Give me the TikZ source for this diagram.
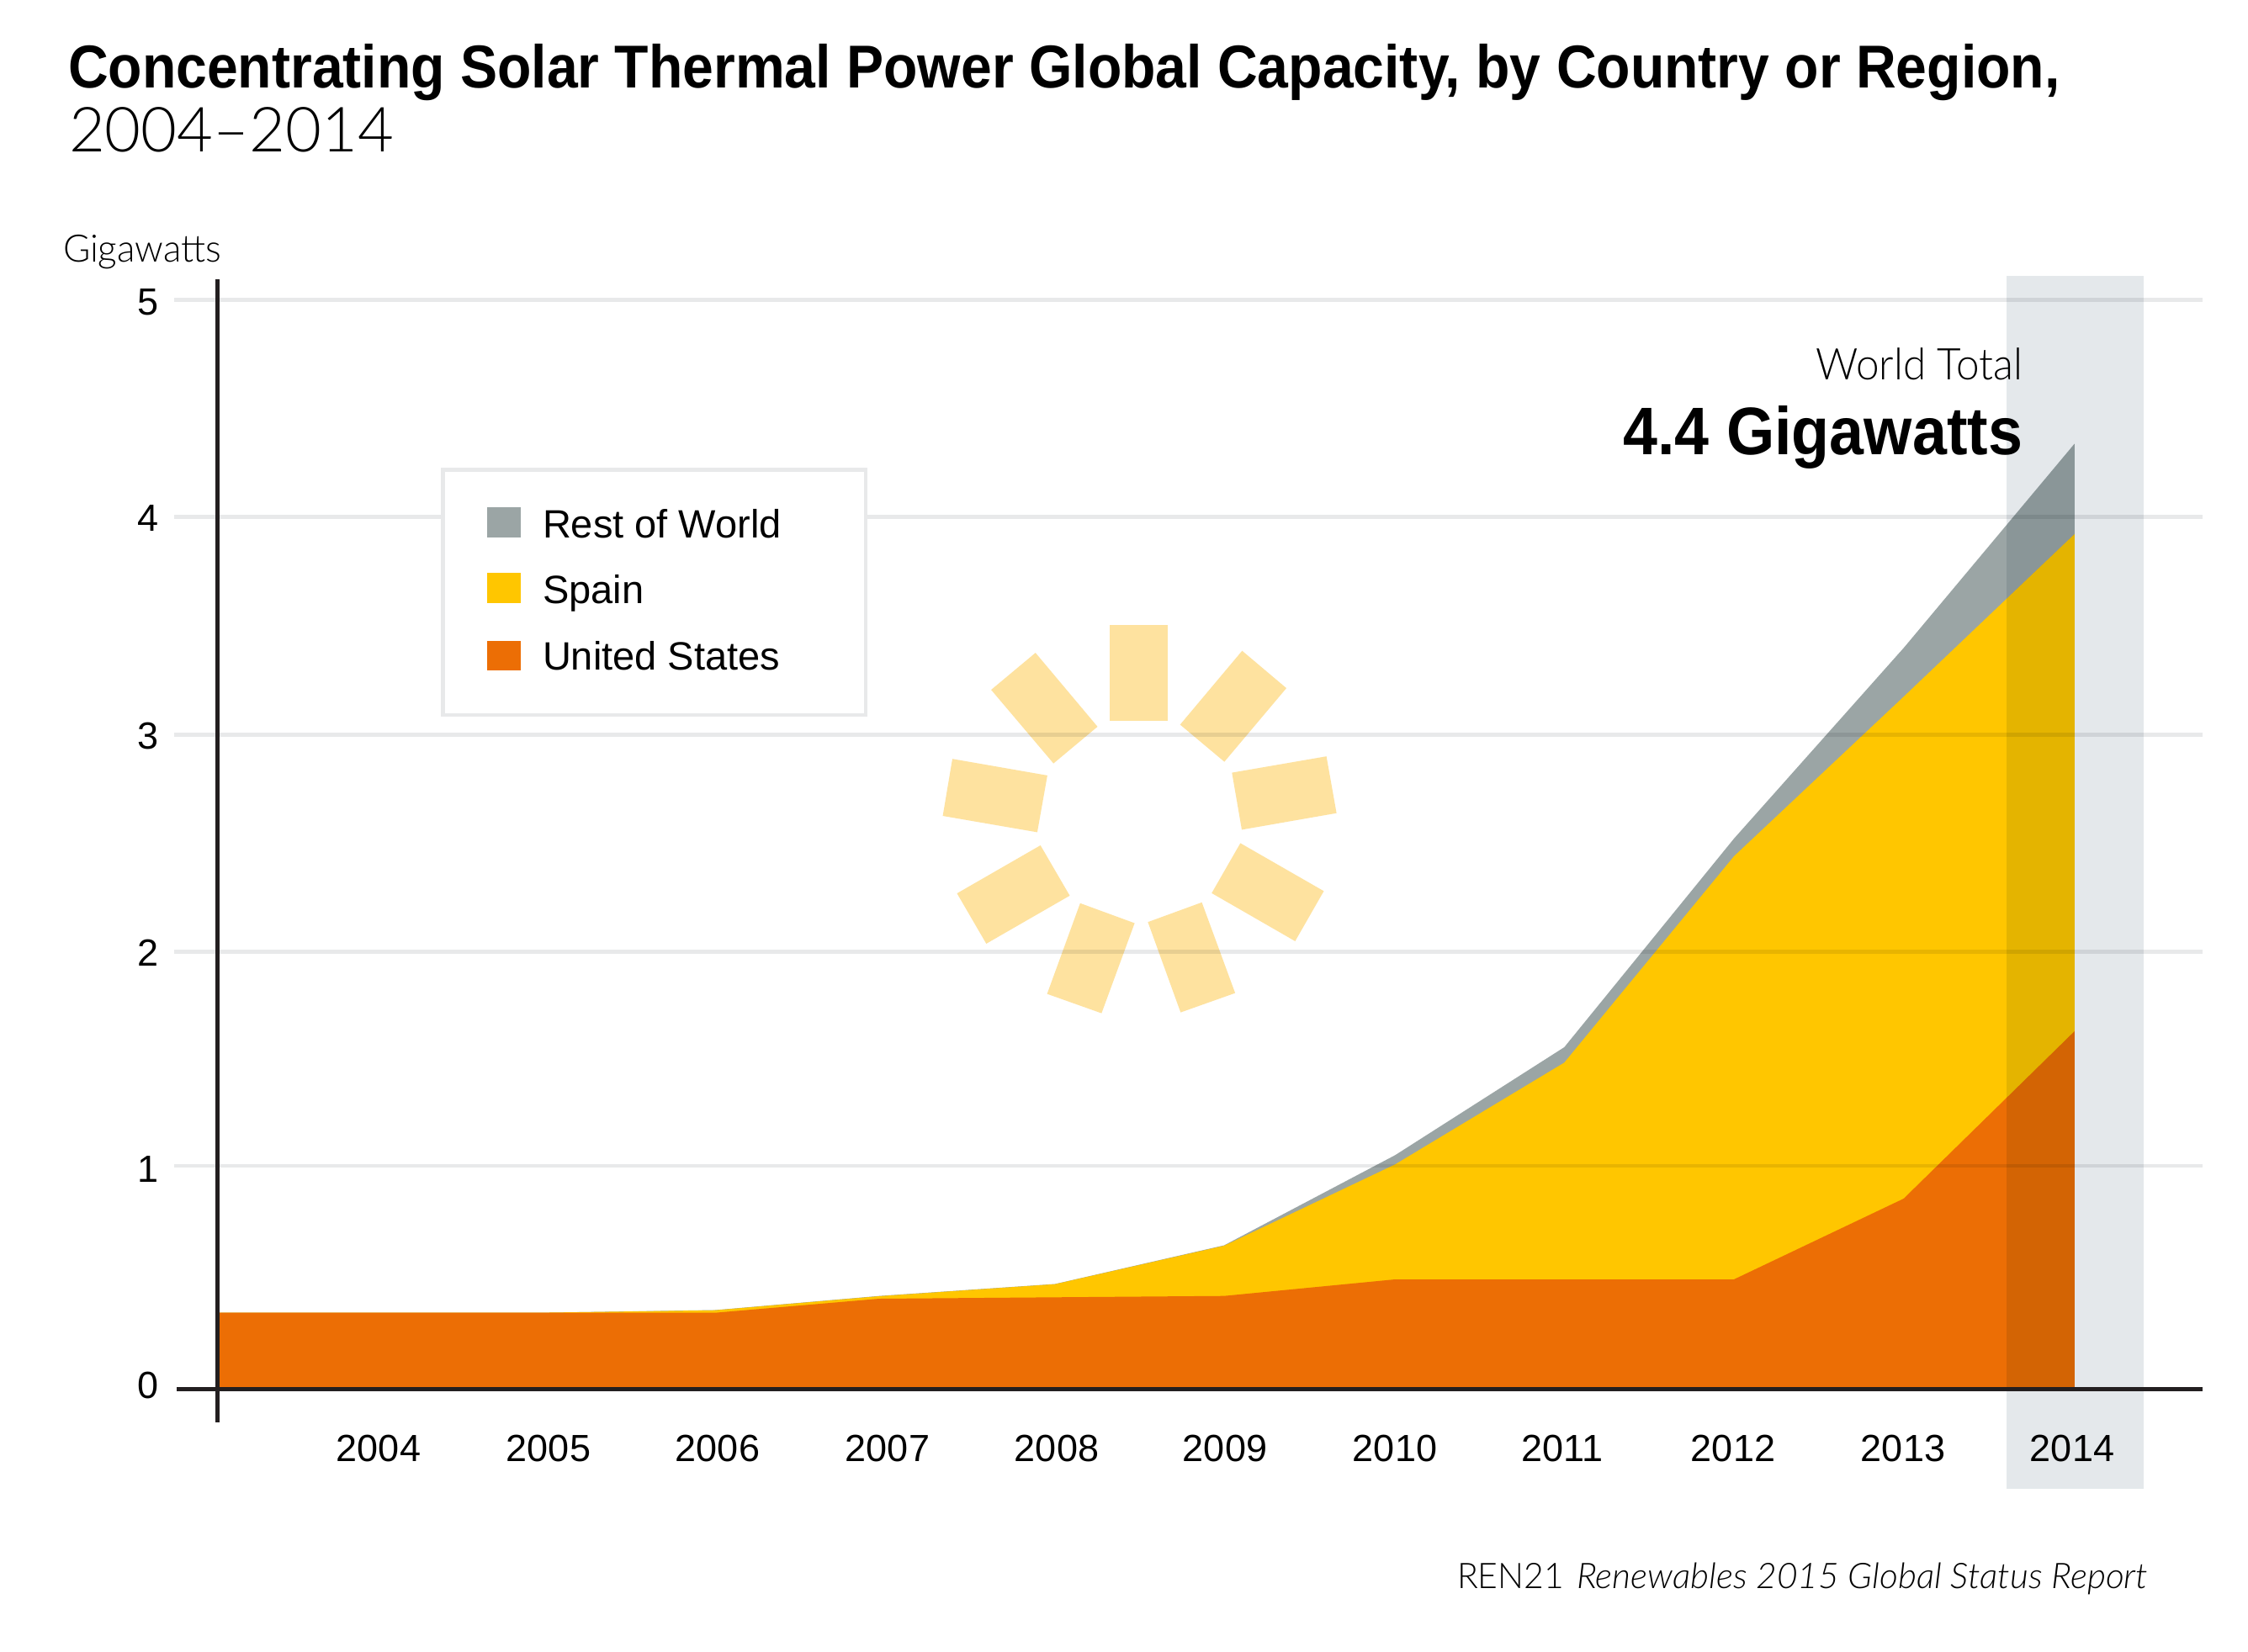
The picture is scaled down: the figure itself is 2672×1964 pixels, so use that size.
\documentclass[tikz,border=0pt]{standalone}
\usepackage{fontspec}
\setmainfont{Liberation Sans}
\newfontfamily\regf{Liberation Sans}
\newfontfamily\boldf[FakeStretch=0.918]{Liberation Sans Bold}
\newfontfamily\boldv[FakeStretch=0.92]{Liberation Sans Bold}
\newfontfamily\lightf[FakeStretch=0.95]{Lato Light}
\newfontfamily\lightu[FakeStretch=0.98]{Lato Light}
\newfontfamily\lights[FakeStretch=1.0]{Lato Light}
\newfontfamily\lightr[FakeStretch=0.975]{Lato Light}
\newfontfamily\lightit[FakeStretch=1.012]{Lato Light Italic}
\definecolor{axisc}{HTML}{231F20}
\definecolor{gridc}{HTML}{E8E9EA}
\definecolor{bandc}{HTML}{E4E8EB}
\definecolor{usc}{HTML}{EC6E05}
\definecolor{esc}{HTML}{FFC600}
\definecolor{rowc}{HTML}{9BA5A5}
\definecolor{sunc}{HTML}{FEE29F}
\tikzset{
  txt/.style={inner sep=0pt,outer sep=0pt,text=black},
  tick/.style={txt,anchor=base,font=\regf\fontsize{45}{45}\selectfont},
  ytick/.style={tick},
  legtxt/.style={txt,anchor=base west,font=\regf\fontsize{47}{47}\selectfont},
  swatch/.style={draw=none},
  ray/.style={fill=sunc,draw=none},
  gridline/.style={draw=gridc,line width=4.7pt,blend mode=multiply},
}
\begin{document}
\begin{tikzpicture}[x=1pt,y=-1pt]
\useasboundingbox (0,0) rectangle (2672,1964);
\fill[white] (0,0) rectangle (2672,1964);
% sun
\fill[ray] (1319,743)--(1387.5,743)--(1387.5,856.8)--(1319,856.8)--cycle;
\fill[ray] (1476.4,773.7)--(1529,818.1)--(1455.3,905.6)--(1402.7,861.5)--cycle;
\fill[ray] (1576.6,899.2)--(1588.6,966.7)--(1476,986.4)--(1464.3,918.6)--cycle;
\fill[ray] (1474.3,1002.4)--(1573.5,1059.4)--(1539.4,1118.9)--(1440.2,1061.8)--cycle;
\fill[ray] (1428.5,1072.8)--(1468.1,1180.6)--(1403.3,1203.6)--(1364.4,1096.2)--cycle;
\fill[ray] (1283.9,1073.8)--(1348.6,1097.5)--(1309.3,1204.6)--(1244.6,1181.6)--cycle;
\fill[ray] (1236.7,1005)--(1271.5,1064.8)--(1172.3,1121.9)--(1137.5,1062.1)--cycle;
\fill[ray] (1132,902.2)--(1244.9,921.9)--(1232.9,989.4)--(1120.6,970)--cycle;
\fill[ray] (1230.8,776.1)--(1304.5,863.9)--(1252.2,907.6)--(1178.1,820.1)--cycle;
% stacked areas
\fill[rowc] (259,1560.5)--(652,1560.5)--(850,1557.5)--(1045,1540.7)--(1254,1526.5)--(1455,1480.5)--(1658.3,1373.3)--(1859.3,1245)--(2061,997)--(2263,770)--(2465.8,527.5)--(2465.8,1651.5)--(259,1651.5)--cycle;
\fill[esc] (259,1560.5)--(652,1560.5)--(850,1557.7)--(1045,1541)--(1254,1526.7)--(1455,1481)--(1658.3,1384.3)--(1859.3,1263.3)--(2061,1018)--(2263,828)--(2465.8,635)--(2465.8,1651.5)--(259,1651.5)--cycle;
\fill[usc] (259,1560.7)--(652,1560.7)--(850,1560.7)--(1045,1544)--(1254,1542.3)--(1455,1540.7)--(1658.3,1521)--(1859.3,1521)--(2061,1521)--(2262.7,1425)--(2465.8,1226)--(2465.8,1651.5)--(259,1651.5)--cycle;
% highlighted band
\fill[bandc,blend mode=multiply] (2385.3,327.6) rectangle (2547.6,1770);
% grid
\foreach \gy in {356.4,614.4,873.7,1131.7,1386}{
  \draw[gridline] (207,\gy) -- (2618,\gy);
}
% axes
\draw[axisc,line width=5.2pt] (258.3,332) -- (258.3,1690.7);
\draw[axisc,line width=5pt] (210,1651.5) -- (2618,1651.5);
% titles
\node[txt,anchor=base west,font=\boldf\fontsize{72}{72}\selectfont] (title) at (81,105) {Concentrating Solar Thermal Power Global Capacity, by Country or Region,};
\node[txt,anchor=base west,font=\lights\fontsize{74}{74}\selectfont] (subtitle) at (82,181) {2004–2014};
\node[txt,anchor=base west,font=\lightu\fontsize{45}{45}\selectfont] (unit) at (75,311) {Gigawatts};
% y labels
\node[ytick] (y5) at (176,374.5) {5};
\node[ytick] (y4) at (176,631) {4};
\node[ytick] (y3) at (176,890) {3};
\node[ytick] (y2) at (176,1148) {2};
\node[ytick] (y1) at (176,1405) {1};
\node[ytick] (y0) at (176,1662) {0};
% x labels
\node[tick] (x2004) at (450,1737) {2004};
\node[tick] (x2005) at (652,1737) {2005};
\node[tick] (x2006) at (853,1737) {2006};
\node[tick] (x2007) at (1055,1737) {2007};
\node[tick] (x2008) at (1256,1737) {2008};
\node[tick] (x2009) at (1456,1737) {2009};
\node[tick] (x2010) at (1658,1737) {2010};
\node[tick] (x2011) at (1857,1737) {2011};
\node[tick] (x2012) at (2060,1737) {2012};
\node[tick] (x2013) at (2262,1737) {2013};
\node[tick] (x2014) at (2463,1737) {2014};
% legend
\draw[draw=gridc,line width=4.7pt,fill=white] (526.5,558.7) rectangle (1029,850);
\fill[swatch,fill=rowc] (579.4,603) rectangle (618.5,639);
\fill[swatch,fill=esc] (579.4,681.4) rectangle (618.5,717);
\fill[swatch,fill=usc] (579.4,761.6) rectangle (618.5,797);
\node[legtxt] (lrow) at (645,639) {Rest of World};
\node[legtxt] (les) at (645,717) {Spain};
\node[legtxt] (lus) at (645,796.6) {United States};
% total
\node[txt,anchor=base east,font=\lightf\fontsize{52}{52}\selectfont] (wt) at (2404,451) {World Total};
\node[txt,anchor=base east,font=\boldv\fontsize{80}{80}\selectfont] (wv) at (2404,540) {4.4 Gigawatts};
% source
\node[txt,anchor=base east,font=\lightit\fontsize{42}{42}\selectfont] (src) at (2553,1888) {Renewables 2015 Global Status Report};
\node[txt,anchor=base west,font=\lightr\fontsize{42}{42}\selectfont] (ren) at (1732,1888) {REN21};
\end{tikzpicture}
\end{document}
